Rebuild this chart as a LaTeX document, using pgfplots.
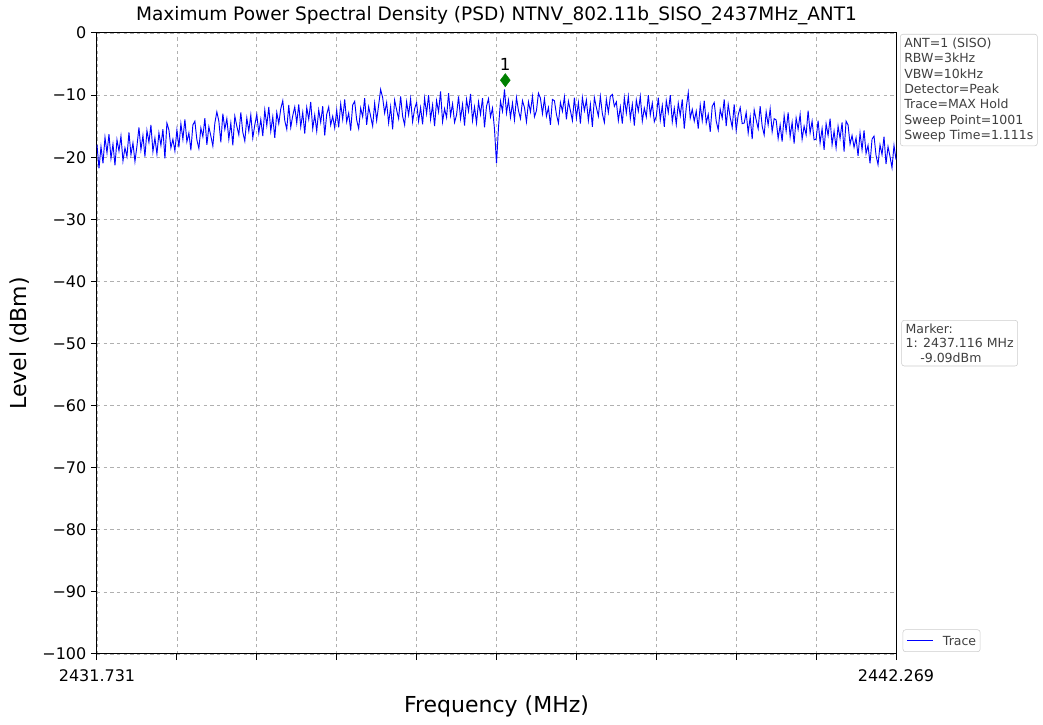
\documentclass[border=0pt]{standalone}
\usepackage{fontspec}
\setmainfont{DejaVu Sans}
\usepackage{pgfplots}
\pgfplotsset{compat=1.18}
\usepackage{pgfplotstable}
\definecolor{gridgray}{HTML}{B0B0B0}
\definecolor{boxtext}{HTML}{404040}
\definecolor{boxedge}{HTML}{CCCCCC}
\definecolor{mkgreen}{HTML}{008000}
\definecolor{traceblue}{HTML}{0000FF}

% 401 sweep points across 2431.731 .. 2442.269 MHz (index 0..400)
\pgfplotstableread[row sep=\\]{
y\\
-18.0\\-21.8\\-18.3\\-21.0\\-16.8\\-19.3\\-16.3\\-20.2\\-17.9\\-21.3\\-17.2\\-19.0\\-16.6\\-20.6\\-18.5\\-19.9\\-16.0\\-19.6\\-17.7\\-20.7\\
-18.2\\-15.2\\-18.8\\-16.5\\-19.9\\-15.7\\-17.6\\-14.8\\-19.1\\-16.9\\-19.5\\-16.1\\-18.1\\-15.5\\-20.2\\-14.5\\-15.6\\-18.5\\-17.1\\-19.0\\
-15.6\\-18.4\\-14.6\\-17.1\\-13.9\\-17.5\\-16.1\\-18.9\\-14.8\\-14.2\\-17.2\\-18.6\\-15.3\\-16.7\\-13.7\\-18.0\\-15.1\\-16.6\\-18.2\\-14.5\\
-12.7\\-14.2\\-17.6\\-13.0\\-15.5\\-13.8\\-17.1\\-14.5\\-18.1\\-13.4\\-15.0\\-16.4\\-12.8\\-16.0\\-17.4\\-13.7\\-15.8\\-13.2\\-16.9\\-14.8\\
-13.1\\-16.1\\-13.9\\-16.6\\-12.4\\-14.9\\-11.9\\-15.8\\-13.5\\-16.9\\-12.8\\-14.6\\-12.2\\-10.9\\-14.1\\-15.5\\-11.6\\-15.2\\-13.3\\-11.9\\
-14.5\\-11.5\\-15.1\\-12.8\\-16.2\\-12.0\\-13.9\\-11.1\\-15.4\\-13.2\\-15.8\\-12.4\\-14.4\\-11.8\\-16.5\\-13.1\\-11.9\\-14.8\\-13.4\\-15.3\\
-12.4\\-15.2\\-11.4\\-13.9\\-10.7\\-14.3\\-12.9\\-15.7\\-11.6\\-11.0\\-14.0\\-15.4\\-12.1\\-13.5\\-10.5\\-14.8\\-11.9\\-13.4\\-15.0\\-11.3\\
-14.1\\-11.6\\-9.1\\-10.4\\-12.9\\-11.2\\-14.5\\-11.9\\-15.5\\-10.8\\-12.4\\-13.8\\-10.2\\-13.4\\-14.8\\-11.1\\-13.2\\-10.6\\-14.3\\-12.2\\
-11.2\\-14.2\\-12.0\\-14.7\\-10.5\\-13.0\\-10.0\\-13.9\\-11.6\\-15.0\\-10.9\\-12.7\\-9.4\\-14.3\\-12.2\\-13.6\\-9.7\\-13.3\\-11.4\\-14.4\\
-13.2\\-10.2\\-13.8\\-11.5\\-14.9\\-10.7\\-12.6\\-9.8\\-14.1\\-11.9\\-14.5\\-11.1\\-13.1\\-10.5\\-15.2\\-11.8\\-10.6\\-13.5\\-12.1\\-15.5\\
-21.0\\-15.2\\-11.0\\-12.6\\-9.1\\-12.9\\-10.8\\-13.6\\-11.3\\-14.0\\-10.4\\-12.5\\-13.8\\-10.9\\-12.0\\-14.3\\-11.1\\-12.7\\-10.2\\-13.5\\
-12.5\\-9.7\\-10.5\\-13.0\\-10.6\\-13.4\\-12.0\\-14.8\\-10.7\\-10.9\\-13.1\\-14.5\\-11.2\\-12.6\\-10.3\\-13.9\\-11.0\\-12.5\\-14.1\\-10.4\\
-13.7\\-11.2\\-14.6\\-10.4\\-12.5\\-10.8\\-14.1\\-11.5\\-15.1\\-10.4\\-12.0\\-13.4\\-10.2\\-13.0\\-14.4\\-10.7\\-12.8\\-10.2\\-9.9\\-11.8\\
-11.1\\-14.1\\-11.9\\-14.6\\-10.4\\-12.9\\-10.2\\-13.8\\-11.5\\-14.9\\-10.8\\-12.6\\-10.2\\-14.2\\-12.1\\-13.5\\-10.0\\-13.2\\-11.3\\-14.3\\
-13.4\\-10.4\\-14.0\\-11.7\\-15.1\\-10.9\\-12.8\\-10.0\\-14.3\\-12.1\\-14.7\\-11.3\\-13.3\\-10.7\\-15.4\\-12.0\\-9.6\\-13.7\\-12.3\\-14.2\\
-12.6\\-15.4\\-11.6\\-14.1\\-10.9\\-14.5\\-13.1\\-15.9\\-11.8\\-11.2\\-14.2\\-15.6\\-12.3\\-13.7\\-10.7\\-15.0\\-11.5\\-13.6\\-15.2\\-11.5\\
-15.7\\-13.2\\-12.0\\-14.6\\-14.5\\-12.8\\-16.1\\-13.5\\-17.1\\-12.4\\-14.0\\-15.4\\-11.8\\-15.0\\-16.4\\-12.7\\-14.8\\-12.2\\-15.9\\-13.8\\
-14.0\\-17.0\\-14.8\\-17.5\\-13.3\\-15.8\\-12.8\\-16.7\\-14.4\\-17.8\\-13.7\\-15.5\\-13.1\\-17.1\\-15.0\\-16.4\\-12.5\\-16.1\\-14.2\\-17.2\\
-17.1\\-14.1\\-17.7\\-15.4\\-18.8\\-14.6\\-16.5\\-13.8\\-18.0\\-15.8\\-18.5\\-15.0\\-17.0\\-14.4\\-19.1\\-14.2\\-14.8\\-17.9\\-16.5\\-18.4\\
-16.9\\-19.8\\-16.1\\-18.8\\-15.7\\-19.4\\-18.1\\-21.0\\-17.1\\-16.6\\-19.7\\-21.2\\-18.0\\-19.6\\-16.7\\-21.1\\-18.3\\-19.9\\-21.7\\-18.1\\-20.4\\
}\trace

\begin{document}
\begin{tikzpicture}
\useasboundingbox (-72.75pt,-53.25pt) rectangle (709.5pt,490.5pt);
\begin{axis}[
  scale only axis, width=599.25pt, height=465.75pt,
  xmin=0, xmax=400, ymin=-100, ymax=0,
  xtick={0,40,...,400},
  xticklabels={2431.731,,,,,,,,,,2442.269},
  ytick={-100,-90,...,0},
  yticklabels={−100,−90,−80,−70,−60,−50,−40,−30,−20,−10,0},
  tick align=outside, tick pos=left,
  major tick length=4.5pt,
  every tick/.style={black, line width=0.75pt},
  axis line style={line width=0.75pt},
  grid=major,
  major grid style={gridgray, dash pattern=on 2.5pt off 2.5pt, line width=0.5pt},
  tick label style={font=\fontsize{12}{14}\selectfont},
  xticklabel style={yshift=-3.75pt},
  title={Maximum Power Spectral Density (PSD) NTNV\_802.11b\_SISO\_2437MHz\_ANT1},
  title style={at={(axis description cs:0.5,1)}, anchor=center, yshift=6.75pt, font=\fontsize{13.9}{16}\selectfont},
  xlabel={Frequency (MHz)},
  xlabel style={at={(axis description cs:0.5,-0.0837)}, anchor=center, font=\fontsize{16.5}{19}\selectfont},
  ylabel={Level (dBm)},
  ylabel style={at={(axis description cs:-0.0964,0.5)}, anchor=center, font=\fontsize{16.5}{19}\selectfont},
  clip=false,
]
\addplot[traceblue, line width=0.7pt]
  table[x expr=\coordindex, y=y]{\trace};
\addplot[only marks, mark=diamond*, mark size=4.9pt, mkgreen]
  coordinates {(204.4,-7.6)};
\node[font=\fontsize{12.5}{14}\selectfont] at (axis cs:204.4,-5.0) {1};
\node[anchor=north west, draw=boxedge, rounded corners=2pt, fill=white, align=left,
  text=boxtext, font=\fontsize{9.4}{11.6}\selectfont, inner xsep=3pt, inner ysep=2.5pt,
  xshift=3pt, yshift=-0.75pt] at (rel axis cs:1,1)
  {ANT=1 (SISO)\\RBW=3kHz\\VBW=10kHz\\Detector=Peak\\Trace=MAX Hold\\Sweep Point=1001\\Sweep Time=1.111s};
\node[anchor=north west, draw=boxedge, rounded corners=2pt, fill=white, align=left,
  text=boxtext, font=\fontsize{9.4}{11}\selectfont, inner xsep=3pt, inner ysep=2.5pt,
  xshift=4pt] at (rel axis cs:1,0.5378)
  {Marker:\\1: 2437.116 MHz\\\hspace*{11pt}-9.09dBm};
% legend box
\node[anchor=south west, draw=boxedge, rounded corners=2pt, fill=white,
  font=\fontsize{9.4}{11}\selectfont, inner xsep=3pt, inner ysep=0pt,
  minimum height=16.5pt, xshift=5pt, yshift=1.5pt] at (rel axis cs:1,0)
  {\textcolor{traceblue}{\rule[3pt]{19.5pt}{1pt}}\hspace{7.5pt}\textcolor{boxtext}{Trace}\hspace{5pt}};
\end{axis}
\end{tikzpicture}
\end{document}
